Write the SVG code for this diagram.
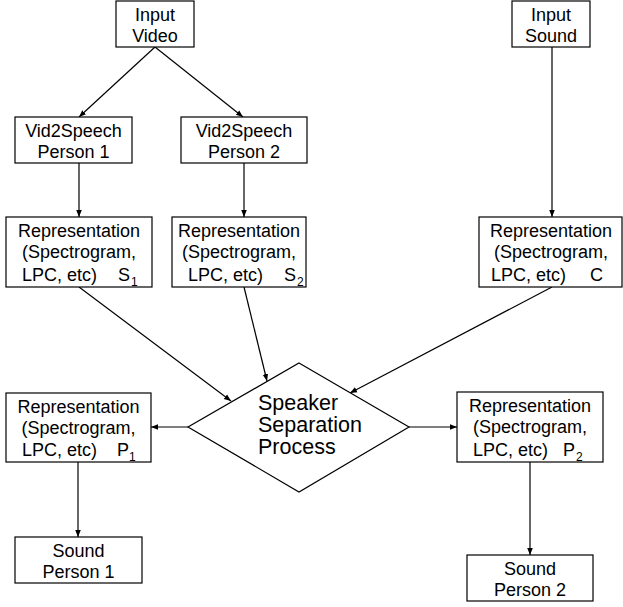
<svg xmlns="http://www.w3.org/2000/svg" width="623" height="607" viewBox="0 0 623 607">
  <style>
    .box { fill: #fff; stroke: #000; stroke-width: 1.2; }
    .t { font-family: "Liberation Sans", Arial, sans-serif; font-size: 18px; fill: #000; }
    .c { text-anchor: middle; }
    .sub { font-family: "Liberation Sans", Arial, sans-serif; font-size: 12px; fill: #000; }
    .big { font-family: "Liberation Sans", Arial, sans-serif; font-size: 21.5px; fill: #000; }
    .edge { fill: none; stroke: #000; stroke-width: 1.2; marker-end: url(#arrow); }
  </style>
  <defs>
    <marker id="arrow" viewBox="0 0 10 10" refX="10" refY="5" markerWidth="7" markerHeight="7" markerUnits="userSpaceOnUse" orient="auto">
      <path d="M0,1 L10,5 L0,9 z" fill="#000"/>
    </marker>
  </defs>
  <rect width="623" height="607" fill="#fff"/>

  <g id="connectors">
    <line class="edge" x1="155" y1="47" x2="79" y2="117"/>
    <line class="edge" x1="155" y1="47" x2="243" y2="117"/>
    <line class="edge" x1="79" y1="163" x2="79" y2="217"/>
    <line class="edge" x1="244" y1="163" x2="244" y2="217"/>
    <line class="edge" x1="552" y1="47" x2="552" y2="217"/>
    <line class="edge" x1="79" y1="287" x2="231" y2="401"/>
    <line class="edge" x1="244" y1="287" x2="267" y2="381"/>
    <line class="edge" x1="552" y1="287" x2="350" y2="393"/>
    <line class="edge" x1="188" y1="427" x2="151" y2="427"/>
    <line class="edge" x1="409" y1="427" x2="457" y2="427"/>
    <line class="edge" x1="78" y1="462" x2="78" y2="537"/>
    <line class="edge" x1="530" y1="462" x2="530" y2="555"/>
  </g>

  <g id="input-video">
    <rect class="box" x="116" y="1" width="78" height="46"/>
    <text class="t c" x="155" y="21">Input</text>
    <text class="t c" x="155" y="42">Video</text>
  </g>

  <g id="input-sound">
    <rect class="box" x="512" y="1" width="78" height="46"/>
    <text class="t c" x="551" y="21">Input</text>
    <text class="t c" x="551" y="42">Sound</text>
  </g>

  <g id="vid2speech-1">
    <rect class="box" x="15" y="117" width="117" height="46"/>
    <text class="t c" x="73.5" y="137">Vid2Speech</text>
    <text class="t c" x="73.5" y="158">Person 1</text>
  </g>

  <g id="vid2speech-2">
    <rect class="box" x="181" y="117" width="126" height="46"/>
    <text class="t c" x="244" y="137">Vid2Speech</text>
    <text class="t c" x="244" y="158">Person 2</text>
  </g>

  <g id="rep-s1">
    <rect class="box" x="6" y="217" width="146" height="70"/>
    <text class="t c" x="79" y="237">Representation</text>
    <text class="t c" x="79" y="258">(Spectrogram,</text>
    <text class="t" x="22" y="281">LPC, etc)</text>
    <text class="t" x="118" y="281">S</text>
    <text class="sub" x="131" y="286">1</text>
  </g>

  <g id="rep-s2">
    <rect class="box" x="172" y="217" width="134" height="70"/>
    <text class="t c" x="239" y="237">Representation</text>
    <text class="t c" x="239" y="258">(Spectrogram,</text>
    <text class="t" x="188" y="281">LPC, etc)</text>
    <text class="t" x="284" y="281">S</text>
    <text class="sub" x="297" y="286">2</text>
  </g>

  <g id="rep-c">
    <rect class="box" x="479" y="217" width="143" height="70"/>
    <text class="t c" x="551" y="237">Representation</text>
    <text class="t c" x="551" y="258">(Spectrogram,</text>
    <text class="t" x="491" y="281">LPC, etc)</text>
    <text class="t" x="590" y="281">C</text>
  </g>

  <g id="separation">
    <polygon class="box" points="299,363 409,427 299,492 188,427"/>
    <text class="big" x="258" y="409.5">Speaker</text>
    <text class="big" x="258" y="431.5">Separation</text>
    <text class="big" x="258" y="453.5">Process</text>
  </g>

  <g id="rep-p1">
    <rect class="box" x="6" y="393" width="145" height="69"/>
    <text class="t c" x="78.5" y="413">Representation</text>
    <text class="t c" x="78.5" y="434">(Spectrogram,</text>
    <text class="t" x="22" y="456">LPC, etc)</text>
    <text class="t" x="117" y="456">P</text>
    <text class="sub" x="129" y="461">1</text>
  </g>

  <g id="rep-p2">
    <rect class="box" x="457" y="392" width="146" height="70"/>
    <text class="t c" x="530" y="412">Representation</text>
    <text class="t c" x="530" y="433">(Spectrogram,</text>
    <text class="t" x="473" y="456">LPC, etc)</text>
    <text class="t" x="563" y="456">P</text>
    <text class="sub" x="576" y="461">2</text>
  </g>

  <g id="sound-1">
    <rect class="box" x="15" y="537" width="127" height="46"/>
    <text class="t c" x="78.5" y="557">Sound</text>
    <text class="t c" x="78.5" y="578">Person 1</text>
  </g>

  <g id="sound-2">
    <rect class="box" x="467" y="555" width="126" height="46"/>
    <text class="t c" x="530" y="575">Sound</text>
    <text class="t c" x="530" y="596">Person 2</text>
  </g>
</svg>
